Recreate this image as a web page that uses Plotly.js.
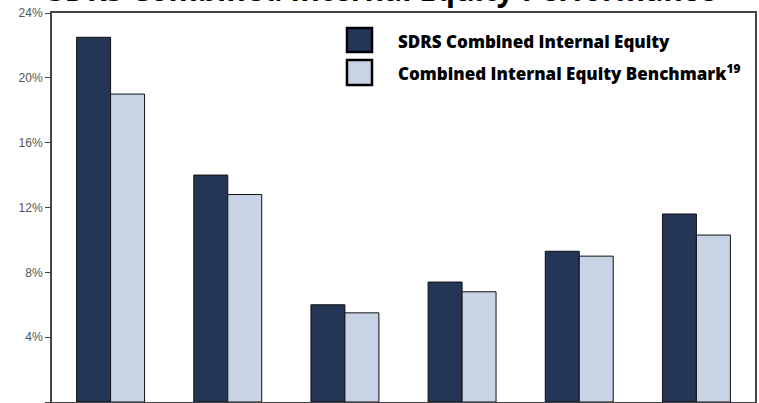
<!DOCTYPE html>
<html>
<head>
<meta charset="utf-8">
<script src="https://cdn.plot.ly/plotly-3.0.1.min.js"></script>
<style>
  html, body { margin: 0; padding: 0; background: #ffffff; }
  #chart { width: 759px; height: 403px; }
</style>
</head>
<body>
<div id="chart"></div>
<script>
// Data (percent)
const categories = ["Period 1", "Period 2", "Period 3", "Period 4", "Period 5", "Period 6"];
const sdrsValues = [22.5, 14.0, 6.0, 7.4, 9.3, 11.6];
const benchmarkValues = [19.0, 12.8, 5.5, 6.8, 9.0, 10.3];
const seriesNames = ["SDRS Combined Internal Equity", "Combined Internal Equity Benchmark<sup>19</sup>"];
const seriesColors = ["#243656", "#c8d4e6"];
const yTicks = [0, 4, 8, 12, 16, 20, 24];
const yTickLabels = ["0%", "4%", "8%", "12%", "16%", "20%", "24%"];
const chartTitle = "SDRS Combined Internal Equity Performance";

const traces = [
  {
    type: "bar", name: seriesNames[0], x: categories, y: sdrsValues,
    marker: { color: seriesColors[0], line: { color: "#111111", width: 1 } },
    hoverinfo: "skip"
  },
  {
    type: "bar", name: seriesNames[1], x: categories, y: benchmarkValues,
    marker: { color: seriesColors[1], line: { color: "#111111", width: 1 } },
    hoverinfo: "skip"
  }
];

const legendFont = { family: "Open Sans, DejaVu Sans, sans-serif", size: 17, color: "#000000", weight: 800 };

const layout = {
  width: 759, height: 403,
  margin: { l: 52, r: 4, t: 13, b: 1, pad: 0 },
  paper_bgcolor: "#ffffff", plot_bgcolor: "#ffffff",
  showlegend: false,
  barmode: "group", bargap: 0.42, bargroupgap: 0,
  xaxis: {
    type: "category", showticklabels: false, ticks: "",
    showline: true, linecolor: "#444444", linewidth: 2, mirror: true,
    showgrid: false, zeroline: false
  },
  yaxis: {
    range: [0, 24], tickvals: yTicks, ticktext: yTickLabels,
    ticks: "outside", ticklen: 5, tickcolor: "#444444", tickwidth: 1,
    tickfont: { family: "Liberation Sans, DejaVu Sans, sans-serif", size: 12, color: "#555555" },
    showline: true, linecolor: "#444444", linewidth: 2, mirror: true,
    showgrid: false, zeroline: false
  },
  shapes: [
    { type: "rect", xref: "paper", yref: "paper", x0: 0.4196, x1: 0.4552, y0: 0.8997, y1: 0.9614,
      fillcolor: seriesColors[0], line: { color: "#000000", width: 2.5 } },
    { type: "rect", xref: "paper", yref: "paper", x0: 0.4196, x1: 0.4552, y0: 0.8149, y1: 0.8792,
      fillcolor: seriesColors[1], line: { color: "#000000", width: 2.5 } }
  ],
  annotations: [
    { xref: "paper", yref: "paper", x: 0.47, y: 1.0025, xanchor: "center", yanchor: "bottom",
      text: "<b>" + chartTitle + "</b>", showarrow: false,
      font: { family: "Open Sans, DejaVu Sans, sans-serif", size: 30, color: "#000000" } },
    { xref: "paper", yref: "paper", x: 0.4893, y: 0.928, xanchor: "left", yanchor: "middle",
      text: seriesNames[0], showarrow: false, font: legendFont },
    { xref: "paper", yref: "paper", x: 0.4893, y: 0.847, xanchor: "left", yanchor: "middle",
      text: seriesNames[1], showarrow: false, font: legendFont }
  ]
};

Plotly.newPlot("chart", traces, layout, { displayModeBar: false, staticPlot: true });
</script>
</body>
</html>
